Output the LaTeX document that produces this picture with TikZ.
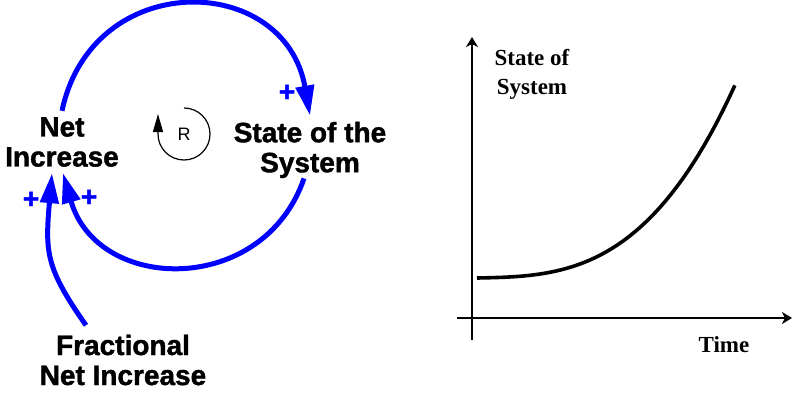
\documentclass[tikz,border=0pt]{standalone}
\usepackage{fontspec}
\setmainfont{Liberation Serif}
\setsansfont{Liberation Sans}[BoldFeatures={FakeBold=1.5}]
\usetikzlibrary{arrows.meta, calc}

\begin{document}
\begin{tikzpicture}[x=0.5pt, y=0.5pt,
    var/.style={font=\sffamily\bfseries\fontsize{14}{15}\selectfont, align=center, inner sep=3pt},
    pol/.style={text=blue, font=\sffamily\bfseries\fontsize{14}{14}\selectfont, inner sep=0pt},
    link/.style={draw=blue, line width=2.5pt, -{Triangle[length=15pt, width=9pt]}},
    loopmark/.style={line width=0.6pt, -{Triangle[length=9pt, width=5pt]}},
    axis/.style={line width=1pt, -{Stealth[length=5pt, width=6pt, inset=1.5pt]}},
    lbl/.style={font=\bfseries\fontsize{11.5}{14.5}\selectfont, align=center},
]
\useasboundingbox (0,0) rectangle (794,392);

% loop diagram
\node[var] (net) at (62,250) {Net\\Increase};
\node[var] (sys) at (310,242) {State of the\\System};
\node[var] (frac) at (123,32) {Fractional\\Net Increase};
\node[font=\sffamily\fontsize{9}{10}\selectfont] (r) at (184,258) {R};

\draw[link] (net.north) .. controls +(78:146) and +(100:146) .. (sys.north);
\draw[link] ([xshift=-3pt,yshift=3pt]sys.south) .. controls +(-109:125) and +(-74:125) .. ([xshift=0.5pt]net.south);
\draw[link] ([xshift=-18.5pt,yshift=1.5pt]frac.north) .. controls +(125:70) and +(-95:80) .. ([xshift=-5pt]net.south);
\draw[loopmark] ($(r)+(90:13pt)$) arc[start angle=90, end angle=-180, radius=13pt] -- ++(0,10pt);

\node[pol] (p1) at (287,299) {+};
\node[pol] (p2) at (31,192) {+};
\node[pol] (p3) at (89,194) {+};

% behaviour over time
\coordinate (ybot) at (472,52);
\coordinate (ytop) at (472,355);
\coordinate (xleft) at (457,74);
\coordinate (xright) at (792,74);
\draw[axis] (ybot) -- (ytop);
\draw[axis] (xleft) -- (xright);
\draw[line width=1.8pt] plot[domain=0:1, samples=80] ({477+258*\x},{114+5.16*\x+187.84*\x*\x*\x});

\node[lbl] (ylab) at (532,318) {State of\\System};
\node[lbl] (tlab) at (724,47) {Time};
\end{tikzpicture}
\end{document}
